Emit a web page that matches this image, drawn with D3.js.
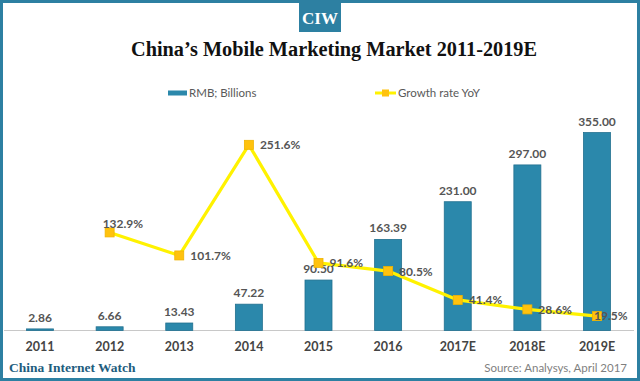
<!DOCTYPE html>
<html>
<head>
<meta charset="utf-8">
<script src="https://cdn.jsdelivr.net/npm/d3@7"></script>
<style>
  html, body { margin: 0; padding: 0; background: #fff; }
  svg { display: block; }
</style>
</head>
<body>
<svg id="chart" width="640" height="381"></svg>
<script>
// ---- data ----
const categories = ["2011", "2012", "2013", "2014", "2015", "2016", "2017E", "2018E", "2019E"];
const marketRMB = [2.86, 6.66, 13.43, 47.22, 90.50, 163.39, 231.00, 297.00, 355.00];
const growthYoY = [null, 132.9, 101.7, 251.6, 91.6, 80.5, 41.4, 28.6, 19.5];
const seriesNames = ["RMB; Billions", "Growth rate YoY"];
const titleText = "China\u2019s Mobile Marketing Market 2011-2019E";
const logoText = "CIW";
const footerLeft = "China Internet Watch";
const footerRight = "Source: Analysys, April 2017";

// ---- layout ----
const W = 640, H = 381;
const baseY = 330.5;
const teal = "#2D80A2";
const barColor = "#2B88AB";
const lineColor = "#FFF200";
const markerColor = "#FFC20E";
const labelFont = "Lato, 'Open Sans', sans-serif";

const svg = d3.select("#chart");

// frame
svg.append("rect").attr("x", 1.5).attr("y", 1.5).attr("width", W - 3).attr("height", H - 3)
  .attr("fill", "#fff").attr("stroke", teal).attr("stroke-width", 3);

// logo
svg.append("rect").attr("x", 299).attr("y", 2).attr("width", 42).attr("height", 30).attr("fill", teal);
svg.append("text").attr("x", 320).attr("y", 24).attr("text-anchor", "middle")
  .attr("font-family", "'Liberation Serif', 'DejaVu Serif', serif").attr("font-weight", "bold")
  .attr("font-size", 17).attr("fill", "#fff").text(logoText);

// title
svg.append("text").attr("x", 334).attr("y", 56).attr("text-anchor", "middle")
  .attr("font-family", "'Liberation Serif', 'DejaVu Serif', serif").attr("font-weight", "bold")
  .attr("font-size", 20.3).attr("fill", "#111").text(titleText);

// scales
const x = d3.scaleBand().domain(categories).range([5.2, 631.8]).padding(0);
const barW = 27;
const yBar = d3.scaleLinear().domain([0, 400]).range([baseY, baseY - 400 * 0.5575]);
const yLine = d3.scaleLinear().domain([0, 300]).range([baseY, baseY - 300 * 0.738]);
const cx = d => x(d) + x.bandwidth() / 2;

// axis
const axis = d3.axisBottom(x).tickSize(0).tickPadding(12);
const gAxis = svg.append("g").attr("transform", `translate(0,${baseY})`).call(axis);
gAxis.select(".domain").remove();
svg.append("line").attr("x1", 4).attr("x2", 634).attr("y1", baseY).attr("y2", baseY)
  .attr("stroke", "#c8c8c8").attr("stroke-width", 1.2);
gAxis.selectAll("text").attr("font-family", labelFont).attr("font-weight", "bold")
  .attr("font-size", 12.5).attr("fill", "#444").attr("dy", "0.71em");

// bars
svg.append("g").selectAll("rect").data(marketRMB).join("rect")
  .attr("x", (d, i) => cx(categories[i]) - barW / 2)
  .attr("y", d => yBar(d))
  .attr("width", barW)
  .attr("height", d => baseY - yBar(d))
  .attr("fill", barColor).attr("stroke", "#22708F").attr("stroke-width", 0.8);

// bar labels
svg.append("g").selectAll("text").data(marketRMB).join("text")
  .attr("x", (d, i) => cx(categories[i]))
  .attr("y", d => yBar(d) - 7)
  .attr("text-anchor", "middle")
  .attr("font-family", labelFont).attr("font-weight", "bold").attr("font-size", 12)
  .attr("fill", "#555").text(d => d.toFixed(2));

// line
const pts = growthYoY.map((v, i) => ({ c: categories[i], v })).filter(p => p.v !== null);
const line = d3.line().x(p => cx(p.c)).y(p => yLine(p.v));
svg.append("path").datum(pts).attr("d", line).attr("fill", "none")
  .attr("stroke", lineColor).attr("stroke-width", 3.2).attr("stroke-linejoin", "round");

const ms = 9;
svg.append("g").selectAll("rect").data(pts).join("rect")
  .attr("x", p => cx(p.c) - ms / 2).attr("y", p => yLine(p.v) - ms / 2)
  .attr("width", ms).attr("height", ms)
  .attr("fill", markerColor).attr("stroke", "#F0B400").attr("stroke-width", 0.8);

// growth labels (offsets for placement)
const lblOffset = p => {
  if (p.c === "2012") return [-7, -4];
  if (p.c === "2019E") return [-3, 4];
  return [11, 4.5];
};
svg.append("g").selectAll("text").data(pts).join("text")
  .attr("x", p => cx(p.c) + lblOffset(p)[0])
  .attr("y", p => yLine(p.v) + lblOffset(p)[1])
  .attr("font-family", labelFont).attr("font-weight", "bold").attr("font-size", 12)
  .attr("fill", "#555").text(p => p.v.toFixed(1) + "%");

// legend
const lg = svg.append("g");
lg.append("rect").attr("x", 168).attr("y", 90.5).attr("width", 19).attr("height", 5).attr("fill", barColor);
lg.append("text").attr("x", 189).attr("y", 97).attr("font-family", labelFont)
  .attr("font-size", 11.5).attr("fill", "#595959").text(seriesNames[0]);
lg.append("line").attr("x1", 375).attr("x2", 396).attr("y1", 93).attr("y2", 93)
  .attr("stroke", lineColor).attr("stroke-width", 3);
lg.append("rect").attr("x", 382).attr("y", 89.5).attr("width", 7).attr("height", 7).attr("fill", markerColor);
lg.append("text").attr("x", 398).attr("y", 97).attr("font-family", labelFont)
  .attr("font-size", 11.5).attr("fill", "#595959").text(seriesNames[1]);

// footer
svg.append("text").attr("x", 9).attr("y", 372)
  .attr("font-family", "'Liberation Serif', 'DejaVu Serif', serif").attr("font-weight", "bold")
  .attr("font-size", 13.5).attr("fill", "#1E5D7E").text(footerLeft);
svg.append("text").attr("x", 627).attr("y", 372).attr("text-anchor", "end")
  .attr("font-family", labelFont).attr("font-size", 11.5).attr("fill", "#7f7f7f").text(footerRight);
</script>
</body>
</html>
